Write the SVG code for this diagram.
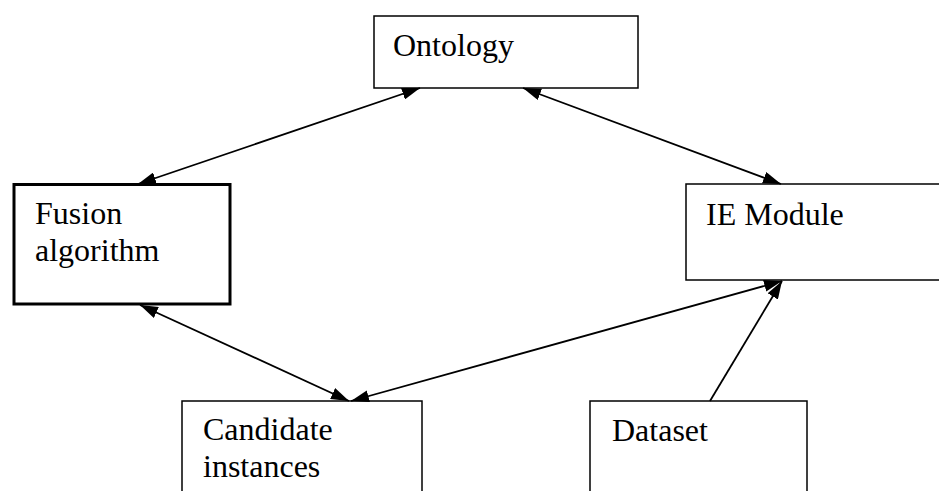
<svg xmlns="http://www.w3.org/2000/svg" width="939" height="491" viewBox="0 0 939 491">
<defs>
<style>
.box{fill:#fff;stroke:#000;stroke-width:1.5}
.thick{stroke-width:3}
.lbl{font-family:"Liberation Serif","Times New Roman",serif;font-size:32px;fill:#000}
.con{stroke:#000;stroke-width:1.8;fill:none}
</style>
<marker id="ah" viewBox="0 0 18 12" refX="18" refY="6" markerWidth="18" markerHeight="12" markerUnits="userSpaceOnUse" orient="auto-start-reverse">
<path d="M0,0 L18,6 L0,12 Z" fill="#000"/>
</marker>
</defs>
<rect width="939" height="491" fill="#fff"/>
<g id="ontology">
<rect class="box" x="374" y="16" width="264" height="72"/>
<text class="lbl" x="393" y="56">Ontology</text>
</g>
<g id="fusion">
<rect class="box thick" x="14" y="184.5" width="216" height="119.5"/>
<text class="lbl" x="35" y="224">Fusion</text>
<text class="lbl" x="35" y="261">algorithm</text>
</g>
<g id="ie">
<rect class="box" x="686" y="184" width="270" height="96"/>
<text class="lbl" x="706" y="225">IE Module</text>
</g>
<g id="candidate">
<rect class="box" x="182" y="401" width="240" height="100"/>
<text class="lbl" x="203" y="440">Candidate</text>
<text class="lbl" x="203" y="477">instances</text>
</g>
<g id="dataset">
<rect class="box" x="590" y="401" width="217" height="100"/>
<text class="lbl" x="612" y="441">Dataset</text>
</g>
<g id="connectors">
<line class="con" x1="138" y1="184" x2="420" y2="88" marker-start="url(#ah)" marker-end="url(#ah)"/>
<line class="con" x1="523" y1="88" x2="781" y2="184" marker-start="url(#ah)" marker-end="url(#ah)"/>
<line class="con" x1="140" y1="305" x2="349" y2="401" marker-start="url(#ah)" marker-end="url(#ah)"/>
<line class="con" x1="351" y1="401" x2="782" y2="281" marker-start="url(#ah)" marker-end="url(#ah)"/>
<line class="con" x1="710" y1="401" x2="782" y2="281" marker-end="url(#ah)"/>
</g>
</svg>
